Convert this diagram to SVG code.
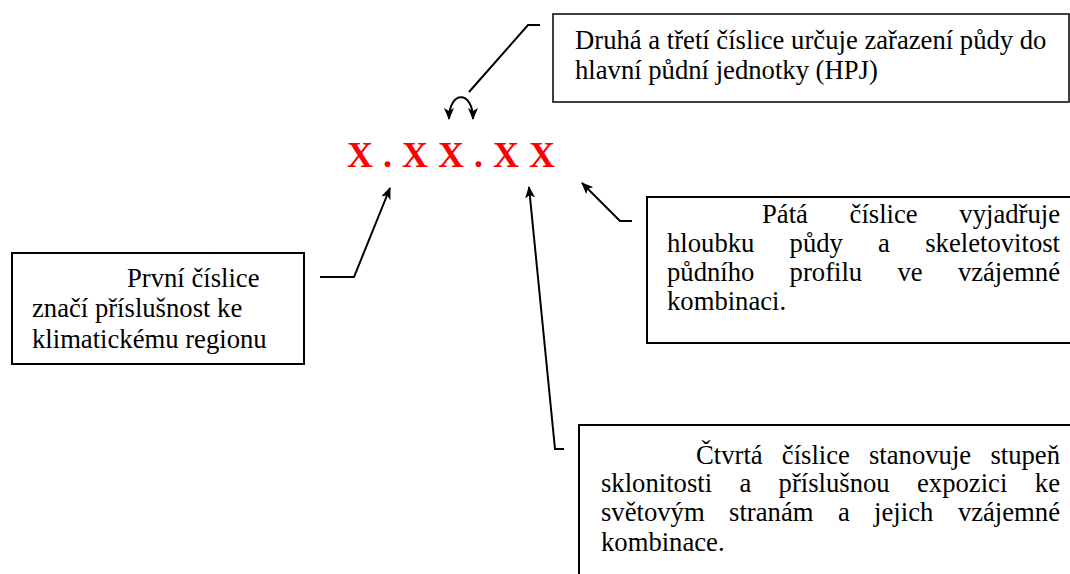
<svg xmlns="http://www.w3.org/2000/svg" width="1070" height="574" viewBox="0 0 1070 574">
<style>
.box{fill:#fff;stroke:#000;stroke-width:2}
.t{font-family:"Liberation Serif","Times New Roman",serif;font-size:26.67px;fill:#000}
.code{font-family:"Liberation Serif","Times New Roman",serif;font-size:36px;font-weight:bold;fill:#ff0000;letter-spacing:10px}
.c{fill:none;stroke:#000;stroke-width:2}
</style>
<defs>
<marker id="ah" viewBox="0 0 12 10" refX="11" refY="5" markerWidth="12" markerHeight="10" markerUnits="userSpaceOnUse" orient="auto-start-reverse">
<path d="M0,0 L12,5 L0,10 L3,5 z" fill="#000"/>
</marker>
</defs>
<rect width="1070" height="574" fill="#fff"/>
<g id="code">
<text class="code" x="347" y="167">X.XX.XX</text>
</g>
<g id="box-top">
<rect class="box" x="553" y="14" width="516" height="88" style="stroke-width:1.5"/>
<text class="t" x="575" y="49">Druhá a třetí číslice určuje zařazení půdy do</text>
<text class="t" x="575" y="79">hlavní půdní jednotky (HPJ)</text>
</g>
<g id="box-left">
<rect class="box" x="12" y="253" width="292" height="111"/>
<text class="t" x="127" y="287">První číslice</text>
<text class="t" x="32" y="317">značí příslušnost ke</text>
<text class="t" x="32" y="348">klimatickému regionu</text>
</g>
<g id="box-right">
<rect class="box" x="647" y="197" width="440" height="146"/>
<text class="t" y="223"><tspan x="762">Pátá</tspan><tspan x="849.6">číslice</tspan><tspan x="1060" text-anchor="end">vyjadřuje</tspan></text>
<text class="t" y="252"><tspan x="667">hloubku</tspan><tspan x="789.6">půdy</tspan><tspan x="878.1">a</tspan><tspan x="1060" text-anchor="end">skeletovitost</tspan></text>
<text class="t" y="281"><tspan x="667">půdního</tspan><tspan x="789.6">profilu</tspan><tspan x="897.4">ve</tspan><tspan x="1060" text-anchor="end">vzájemné</tspan></text>
<text class="t" x="667" y="310">kombinaci.</text>
</g>
<g id="box-bottom">
<rect class="box" x="579" y="425" width="500" height="200"/>
<text class="t" y="464"><tspan x="696">Čtvrtá</tspan><tspan x="781.8">číslice</tspan><tspan x="869">stanovuje</tspan><tspan x="1060" text-anchor="end">stupeň</tspan></text>
<text class="t" y="492"><tspan x="601">sklonitosti</tspan><tspan x="739.5">a</tspan><tspan x="778.6">příslušnou</tspan><tspan x="917">expozici</tspan><tspan x="1060" text-anchor="end">ke</tspan></text>
<text class="t" y="521"><tspan x="601">světovým</tspan><tspan x="729.1">stranám</tspan><tspan x="837.9">a</tspan><tspan x="874.1">jejich</tspan><tspan x="1060" text-anchor="end">vzájemné</tspan></text>
<text class="t" x="601" y="551">kombinace.</text>
</g>
<g id="connectors">
<polyline class="c" points="540,25 528,25 469,92"/>
<path class="c" d="M449,119 C449,90 473,90 473,119" marker-start="url(#ah)" marker-end="url(#ah)"/>
<polyline class="c" points="320,277 354,277 390,188" marker-end="url(#ah)"/>
<polyline class="c" points="564,449 555,449 529,187" marker-end="url(#ah)"/>
<polyline class="c" points="632,221 620,221 582,183" marker-end="url(#ah)"/>
</g>
</svg>
